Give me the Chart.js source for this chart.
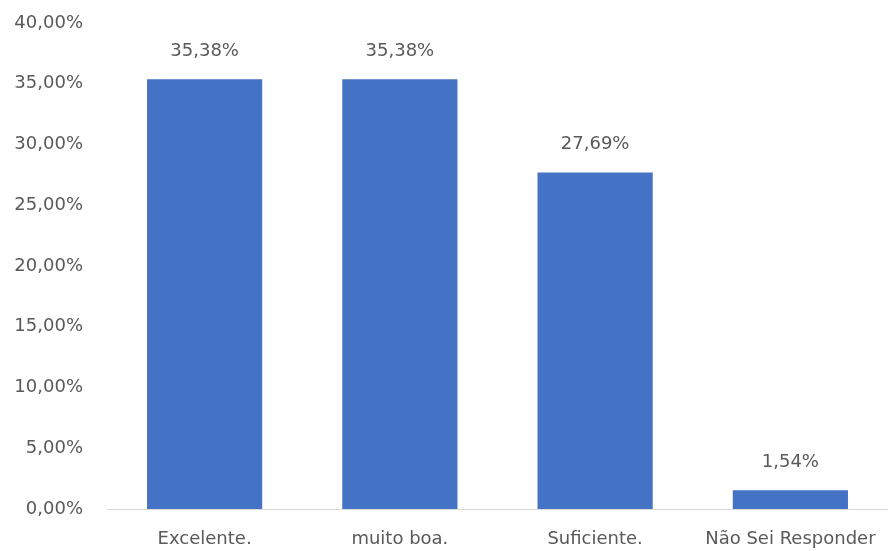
<!DOCTYPE html>
<html>
<head>
<meta charset="utf-8">
<script src="https://cdn.jsdelivr.net/npm/chart.js@4/dist/chart.umd.min.js"></script>
<style>
  html, body { margin:0; padding:0; background:#fff; }
  #wrap { width:888px; height:551px; }
</style>
</head>
<body>
<div id="wrap"><canvas id="chart"></canvas></div>
<script>
// ========== Data ==========
const categories = ['Excelente.', 'muito boa.', 'Suficiente.', 'Não Sei Responder'];
const percentValues = [35.38, 35.38, 27.69, 1.54];

// ========== Helpers ==========
function pct(v){ return v.toFixed(2).replace('.', ',') + '%'; }

const FONT = '"DejaVu Sans", sans-serif';
const TEXT = '#595959';

// value labels above each bar
const barLabels = {
  id:'barLabels',
  afterDatasetsDraw(chart){
    const ctx = chart.ctx;
    const meta = chart.getDatasetMeta(0);
    ctx.save();
    ctx.font = '18px ' + FONT;
    ctx.fillStyle = TEXT;
    ctx.textAlign = 'center';
    ctx.textBaseline = 'middle';
    meta.data.forEach((bar, i) => {
      ctx.fillText(pct(percentValues[i]), bar.x, bar.y - 28);
    });
    ctx.restore();
  }
};

const chart = new Chart(document.getElementById('chart'), {
  type:'bar',
  data:{ labels:categories, datasets:[{ data:percentValues, backgroundColor:'#4472C4', borderWidth:0, categoryPercentage:1, barPercentage:0.59 }]},
  options:{
    responsive:true, maintainAspectRatio:false, animation:false,
    layout:{ padding:{ top:23, right:0, left:0, bottom:0 } },
    plugins:{ legend:{ display:false }, tooltip:{ enabled:false } },
    scales:{
      x:{
        grid:{ display:false, drawTicks:false },
        border:{ display:true, color:'#D9D9D9', width:1 },
        ticks:{ color:TEXT, font:{ family:FONT, size:18 }, padding:20, maxRotation:0, autoSkip:false },
        afterFit(s){ s.height = 42; s.paddingTop = 0; s.paddingLeft = 0; s.paddingRight = 0; }
      },
      y:{
        min:0, max:40,
        grid:{ display:false, drawTicks:false },
        border:{ display:false },
        ticks:{ stepSize:5, color:TEXT, font:{ family:FONT, size:18 }, padding:24, callback:v => pct(v) },
        afterFit(s){ s.width = 107; s.paddingTop = 0; s.paddingBottom = 0; }
      }
    }
  },
  plugins:[barLabels]
});
</script>
</body>
</html>
